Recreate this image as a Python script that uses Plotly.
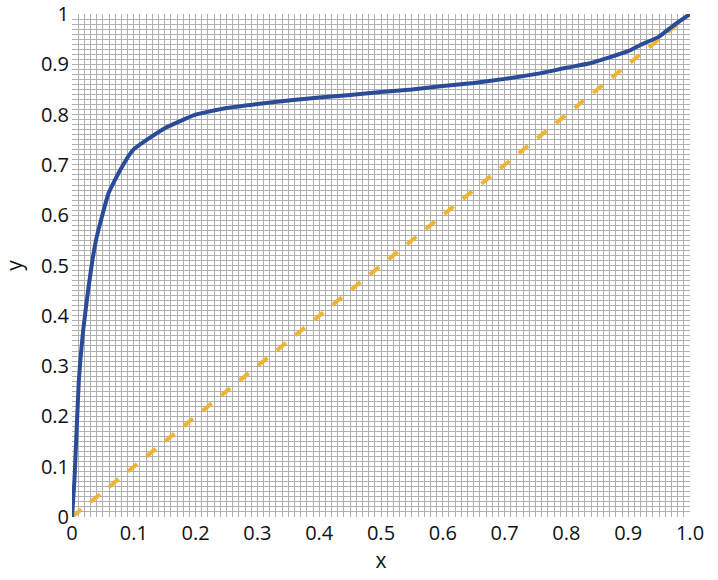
import plotly.graph_objects as go

x_eq = [0, 0.004, 0.011, 0.018, 0.026, 0.033, 0.04, 0.059, 0.078, 0.099, 0.15, 0.2, 0.25, 0.3,
        0.35, 0.4, 0.45, 0.5, 0.55, 0.6, 0.65, 0.7, 0.757, 0.8, 0.838, 0.9, 0.919, 0.95, 0.973, 1.0]
y_eq = [0, 0.074, 0.27, 0.37, 0.45, 0.51, 0.557, 0.643, 0.69, 0.73, 0.773, 0.800, 0.813, 0.821,
        0.828, 0.834, 0.839, 0.845, 0.850, 0.857, 0.863, 0.871, 0.882, 0.893, 0.902, 0.926, 0.938, 0.955, 0.977, 1.0]
x_diag = [0, 1]
y_diag = [0, 1]

x_ticks = [0, 0.1, 0.2, 0.3, 0.4, 0.5, 0.6, 0.7, 0.8, 0.9, 1.0]
x_ticklabels = ["0", "0.1", "0.2", "0.3", "0.4", "0.5", "0.6", "0.7", "0.8", "0.9", "1.0"]
y_ticks = [0, 0.1, 0.2, 0.3, 0.4, 0.5, 0.6, 0.7, 0.8, 0.9, 1.0]
y_ticklabels = ["0", "0.1", "0.2", "0.3", "0.4", "0.5", "0.6", "0.7", "0.8", "0.9", "1"]

fig = go.Figure()
fig.add_trace(go.Scatter(x=x_diag, y=y_diag, mode="lines",
                         line=dict(color="#EFB432", width=4, dash="dash"),
                         showlegend=False, hoverinfo="skip"))
fig.add_trace(go.Scatter(x=x_eq, y=y_eq, mode="lines",
                         line=dict(color="#2A4B98", width=4, shape="spline", smoothing=0.4),
                         showlegend=False))

grid = "#b0b0b0"
common = dict(range=[0, 1], showgrid=True, gridcolor=grid, gridwidth=1,
              minor=dict(dtick=0.01, showgrid=True, gridcolor=grid, gridwidth=1),
              zeroline=False, showline=False, ticks="", automargin=False,
              ticklabeloverflow="allow",
              tickfont=dict(family="Open Sans", size=20, color="#111"))

fig.update_xaxes(**common, tickvals=x_ticks, ticktext=x_ticklabels, ticklabelstandoff=2,
                 title=dict(text="x", font=dict(family="Open Sans", size=21, color="#111"), standoff=0))
fig.update_yaxes(**common, tickvals=y_ticks, ticktext=y_ticklabels, ticklabelstandoff=2,
                 title=dict(text="y", font=dict(family="Open Sans", size=21, color="#111"), standoff=14))

fig.update_layout(width=718, height=580,
                  margin=dict(l=72, r=28, t=14, b=63),
                  plot_bgcolor="white", paper_bgcolor="white")

fig.write_html("out.html", config={"displayModeBar": False},
               post_script="document.body.style.margin='0';")
